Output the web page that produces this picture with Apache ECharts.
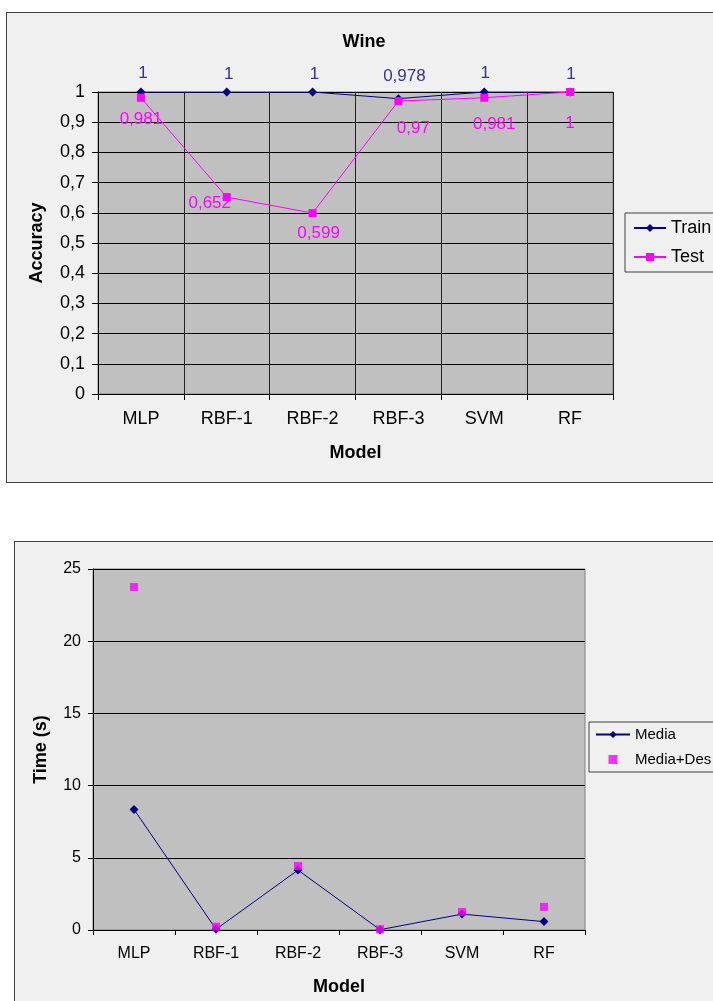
<!DOCTYPE html>
<html>
<head>
<meta charset="utf-8">
<script src="https://cdn.jsdelivr.net/npm/echarts@6/dist/echarts.min.js"></script>
<style>
html,body{margin:0;padding:0;background:#fff;}
body{width:713px;height:1001px;overflow:hidden;position:relative;}
.box{position:absolute;border:1px solid #404040;background:#f0f0f0;}
#c1{left:6px;top:12px;width:720px;height:469px;}
#c2{left:14px;top:541px;width:720px;height:470px;}
</style>
</head>
<body>
<div id="c1" class="box"></div>
<div id="c2" class="box"></div>
<script>
// ---- data ----
const models = ['MLP', 'RBF-1', 'RBF-2', 'RBF-3', 'SVM', 'RF'];
const trainAcc = [1, 1, 1, 0.978, 1, 1];
const testAcc = [0.981, 0.652, 0.599, 0.97, 0.981, 1];
const timeMedia = [8.35, 0.05, 4.15, 0.02, 1.1, 0.58];
const timeMediaDes = [23.75, 0.23, 4.43, 0.05, 1.25, 1.6];
const accTicks = ['0', '0,1', '0,2', '0,3', '0,4', '0,5', '0,6', '0,7', '0,8', '0,9', '1'];

const FONT = 'Liberation Sans, Arial, sans-serif';
const comma = v => String(v).replace('.', ',');

// label placements (layout only)
const trainLabelOff = [[2,-19],[2,-18],[2,-18],[6,-22],[1,-19],[1,-18]];
const testLabelOff = [[0,22],[-17,6],[6,20],[15,27],[10,27],[0,31]];

const c1 = echarts.init(document.getElementById('c1'), null, {renderer:'canvas'});
c1.setOption({
  animation:false,
  textStyle:{fontFamily:FONT},
  title:{text:'Wine', left:357, top:20, padding:0, textAlign:'center',
    textStyle:{fontFamily:FONT, fontSize:18, fontWeight:'bold', color:'#000'}},
  grid:{left:91, top:79, width:515, height:302, show:true, backgroundColor:'#c0c0c0', borderColor:'#808080', borderWidth:1},
  legend:{orient:'vertical', left:618, top:200, padding:[6,10,6,8], itemGap:11,
    backgroundColor:'#f0f0f0', borderColor:'#404040', borderWidth:1, borderRadius:0,
    itemWidth:32, itemHeight:10,
    textStyle:{fontFamily:FONT, fontSize:18, color:'#000'},
    data:['Train','Test']},
  xAxis:{type:'category', data:models, boundaryGap:true,
    name:'Model', nameLocation:'middle', nameGap:50,
    nameTextStyle:{fontFamily:FONT, fontSize:18, fontWeight:'bold', color:'#000'},
    axisLine:{lineStyle:{color:'#000'}},
    axisTick:{show:true, length:6, lineStyle:{color:'#000'}},
    axisLabel:{fontFamily:FONT, fontSize:18, color:'#000', margin:16},
    splitLine:{show:true, lineStyle:{color:'#222', width:1}}},
  yAxis:{type:'value', min:0, max:1, interval:0.1,
    name:'Accuracy', nameLocation:'middle', nameGap:52, nameRotate:90,
    nameTextStyle:{fontFamily:FONT, fontSize:18, fontWeight:'bold', color:'#000'},
    axisLine:{show:true, lineStyle:{color:'#000'}},
    axisTick:{show:true, length:6, lineStyle:{color:'#000'}},
    axisLabel:{fontFamily:FONT, fontSize:18, color:'#000', margin:13,
      formatter:(v)=>accTicks[Math.round(v*10)]},
    splitLine:{show:true, lineStyle:{color:'#000', width:1}}},
  series:[
    {name:'Train', type:'line', symbol:'diamond', symbolSize:9,
      itemStyle:{color:'#000080'}, lineStyle:{color:'#000080', width:1},
      data:trainAcc.map((v,i)=>({value:v, label:{offset:trainLabelOff[i]}})),
      label:{show:true, position:'inside', color:'#333399', fontFamily:FONT, fontSize:17,
        formatter:p=>comma(p.value)}, z:3},
    {name:'Test', type:'line', symbol:'rect', symbolSize:8,
      itemStyle:{color:'#ff00ff'}, lineStyle:{color:'#ff00ff', width:1},
      data:testAcc.map((v,i)=>({value:v, label:{offset:testLabelOff[i]}})),
      label:{show:true, position:'inside', color:'#ff00ff', fontFamily:FONT, fontSize:17,
        formatter:p=>comma(p.value)}, z:4}
  ]
});

const c2 = echarts.init(document.getElementById('c2'), null, {renderer:'canvas'});
c2.setOption({
  animation:false,
  textStyle:{fontFamily:FONT},
  grid:{left:78, top:27, width:492, height:361, show:true, backgroundColor:'#c0c0c0', borderColor:'#808080', borderWidth:1},
  legend:{orient:'vertical', left:574, top:180, padding:[5,10,5,6], itemGap:10,
    backgroundColor:'#f0f0f0', borderColor:'#404040', borderWidth:1, borderRadius:0,
    itemWidth:34, itemHeight:9,
    textStyle:{fontFamily:FONT, fontSize:15, color:'#000'},
    data:[{name:'Media'}, {name:'Media+Des', icon:'path://M0,0H10V10H0Z'}]},
  xAxis:{type:'category', data:models, boundaryGap:true,
    name:'Model', nameLocation:'middle', nameGap:48,
    nameTextStyle:{fontFamily:FONT, fontSize:18, fontWeight:'bold', color:'#000'},
    axisLine:{lineStyle:{color:'#000'}},
    axisTick:{show:true, length:5, lineStyle:{color:'#000'}},
    axisLabel:{fontFamily:FONT, fontSize:16, color:'#000', margin:16},
    splitLine:{show:false}},
  yAxis:{type:'value', min:0, max:25, interval:5,
    name:'Time (s)', nameLocation:'middle', nameGap:43, nameRotate:90,
    nameTextStyle:{fontFamily:FONT, fontSize:18, fontWeight:'bold', color:'#000'},
    axisLine:{show:true, lineStyle:{color:'#000'}},
    axisTick:{show:true, length:5, lineStyle:{color:'#000'}},
    axisLabel:{fontFamily:FONT, fontSize:16, color:'#000', margin:12},
    splitLine:{show:true, lineStyle:{color:'#000', width:1}}},
  series:[
    {name:'Media', type:'line', symbol:'diamond', symbolSize:9,
      itemStyle:{color:'#000080'}, lineStyle:{color:'#000080', width:1},
      data:timeMedia, z:3},
    {name:'Media+Des', type:'scatter', symbol:'rect', symbolSize:8,
      itemStyle:{color:'#ff00ff'}, data:timeMediaDes, z:4}
  ]
});
</script>
</body>
</html>
